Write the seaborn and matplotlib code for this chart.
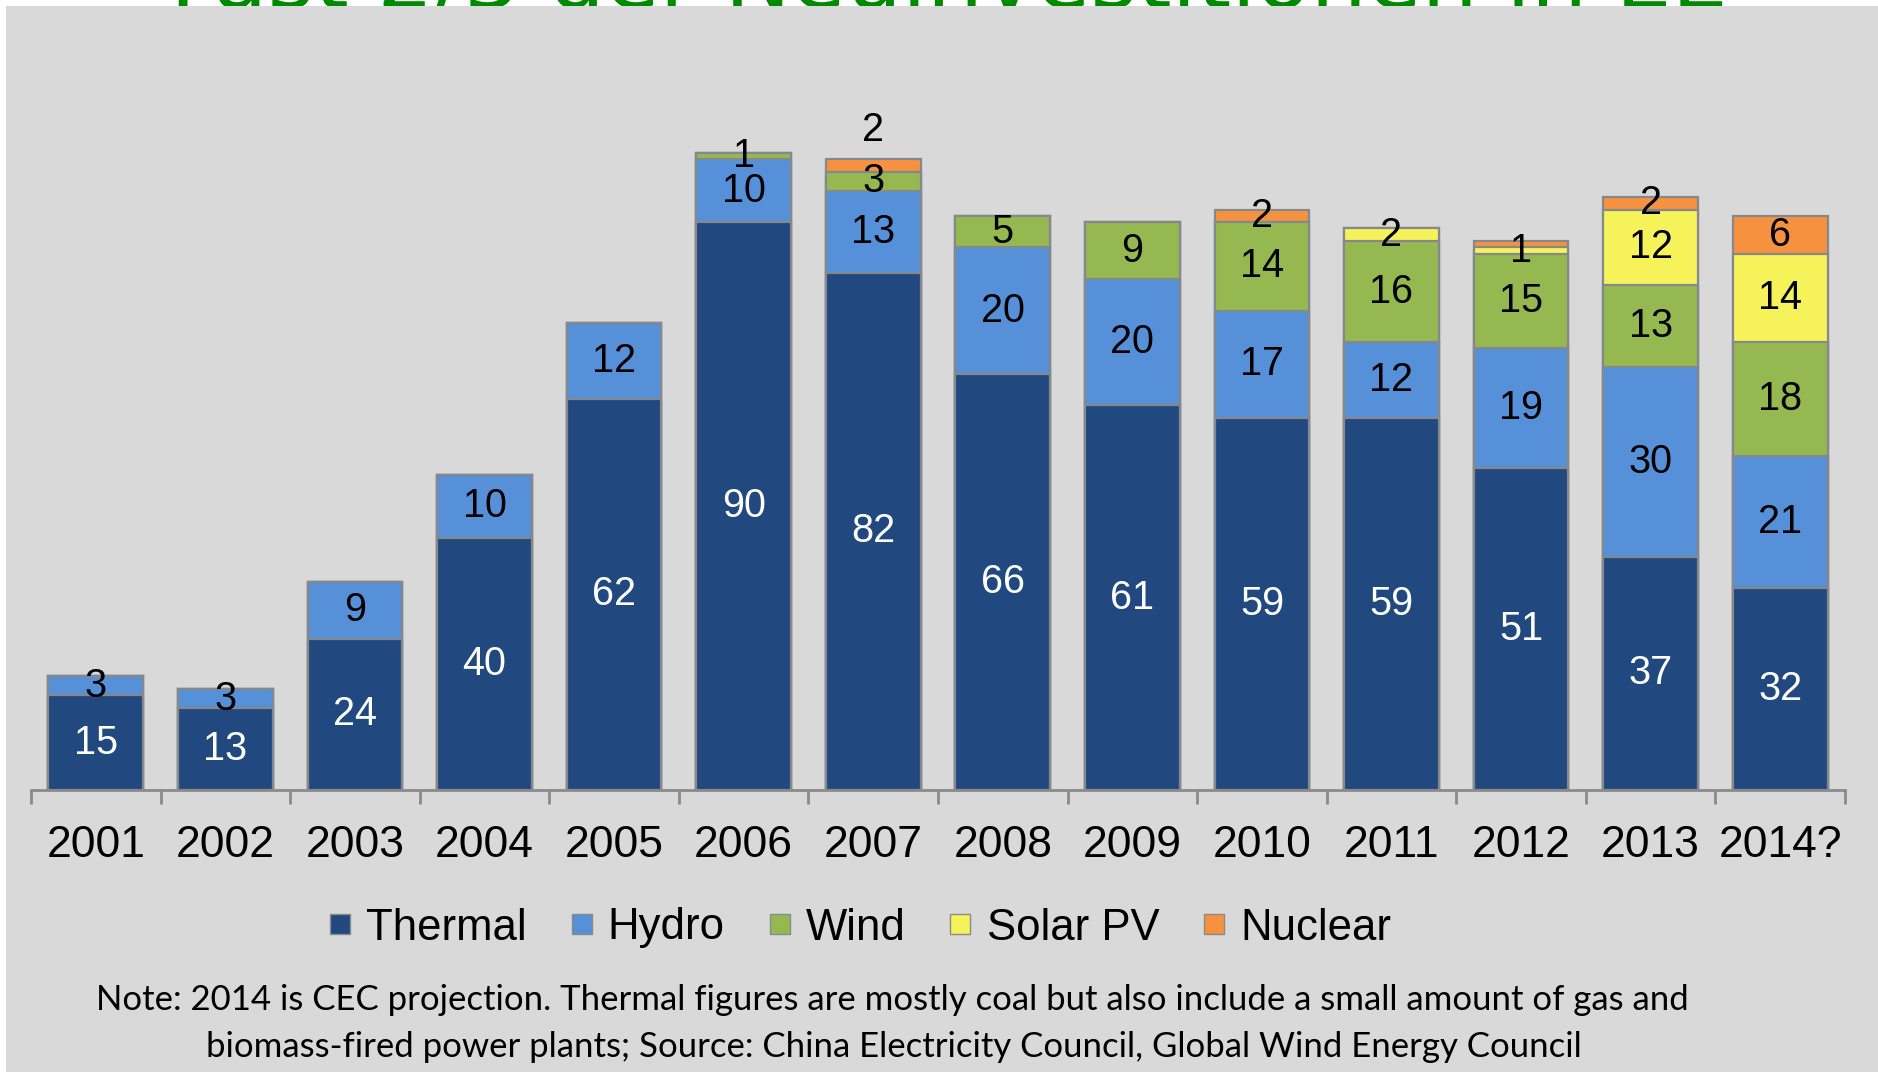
import matplotlib
matplotlib.use("Agg")
import matplotlib.pyplot as plt
import seaborn as sns
import numpy as np
import pandas as pd
from matplotlib.patches import Rectangle
from matplotlib.lines import Line2D

# Chart data (GW of new capacity per year)
years = ['2001', '2002', '2003', '2004', '2005', '2006', '2007',
         '2008', '2009', '2010', '2011', '2012', '2013', '2014?']
thermal = [15, 13, 24, 40, 62, 90, 82, 66, 61, 59, 59, 51, 37, 32]
hydro = [3, 3, 9, 10, 12, 10, 13, 20, 20, 17, 12, 19, 30, 21]
wind = [0, 0, 0, 0, 0, 1, 3, 5, 9, 14, 16, 15, 13, 18]
solar = [0, 0, 0, 0, 0, 0, 0, 0, 0, 0, 2, 1, 12, 14]
nuclear = [0, 0, 0, 0, 0, 0, 2, 0, 0, 2, 0, 1, 2, 6]

series_names = ['Thermal', 'Hydro', 'Wind', 'Solar PV', 'Nuclear']
series_values = [thermal, hydro, wind, solar, nuclear]
colors = ['#21497f', '#5590d8', '#95b950', '#f6f25a', '#f6923f']
label_colors = ['white', 'black', 'black', 'black', 'black']

title_text = 'Fast 2/3 der Neuinvestitionen in EE'
note_lines = ['Note: 2014 is CEC projection. Thermal figures are mostly coal but also include a small amount of gas and',
              'biomass-fired power plants; Source: China Electricity Council, Global Wind Energy Council']

W, H = 1878, 1075
fig = plt.figure(figsize=(W / 100, H / 100), dpi=100, facecolor='white')

# cut-off slide title behind grey panel
fig.text(0.505, 1 - 8 / H, title_text, color='#008a00', fontsize=64,
         family='DejaVu Sans', ha='center', va='baseline', zorder=-3)
fig.patches.append(Rectangle((6 / W, 3 / H), 1 - 6 / W, 1 - 9 / H,
                             transform=fig.transFigure, facecolor='#d9d9d9',
                             edgecolor='none', zorder=-2))

ax = fig.add_axes([31 / W, 1 - 790 / H, 1814 / W, 694 / H])
ax.set_facecolor('none')

df = pd.DataFrame(dict(zip(series_names, series_values)), index=years)
cum = df.cumsum(axis=1)

# stacked bars: draw cumulative totals from top layer down
for name, col in reversed(list(zip(series_names, colors))):
    sns.barplot(x=years, y=cum[name].values, color=col, width=0.73,
                edgecolor='#85898d', linewidth=1.6, saturation=1, ax=ax)

# segment labels
for i, year in enumerate(years):
    base = 0
    for k, name in enumerate(series_names):
        v = df.loc[year, name]
        show = v > 0
        if year == '2012' and name == 'Nuclear':
            show = False
        if show:
            if year == '2007' and name == 'Nuclear':
                ax.text(i, base + v + 1.6, str(v), ha='center', va='bottom',
                        fontsize=28.5, color='black', family='Liberation Sans')
            else:
                ax.text(i, base + v / 2, str(v), ha='center', va='center',
                        fontsize=28.5, color=label_colors[k], family='Liberation Sans')
        base += v

ax.set_xlim(-0.5, len(years) - 0.5)
ax.set_ylim(0, 110)
ax.set_xlabel('')
ax.set_ylabel('')
ax.set_yticks([])
for s in ['left', 'top', 'right']:
    ax.spines[s].set_visible(False)
ax.spines['bottom'].set_color('#8a8a8a')
ax.spines['bottom'].set_linewidth(2)
ax.set_xticks(np.arange(len(years)))
ax.set_xticklabels(years, fontsize=32, family='Liberation Sans')
ax.tick_params(axis='x', which='major', length=0, pad=25)
ax.set_xticks(np.arange(len(years) + 1) - 0.5, minor=True)
ax.tick_params(axis='x', which='minor', length=10, width=2, color='#8a8a8a')

# legend
handles = [Line2D([], [], marker='s', linestyle='none', markersize=14,
                  markerfacecolor=c, markeredgecolor='#8a8a8a', markeredgewidth=1)
           for c in colors]
fig.legend(handles, series_names, loc='center', bbox_to_anchor=(0.458, 1 - 928 / H),
           ncol=5, frameon=False, handlelength=0.5, handletextpad=0.35,
           columnspacing=1.0, prop={'family': 'Liberation Sans', 'size': 31.5})

# note
fig.text(0.475, 1 - 1000 / H, note_lines[0], ha='center', va='center',
         fontsize=25, family='Lato')
fig.text(0.476, 1 - 1047 / H, note_lines[1], ha='center', va='center',
         fontsize=25, family='Lato')

fig.savefig('out.png', dpi=100, facecolor='white')
